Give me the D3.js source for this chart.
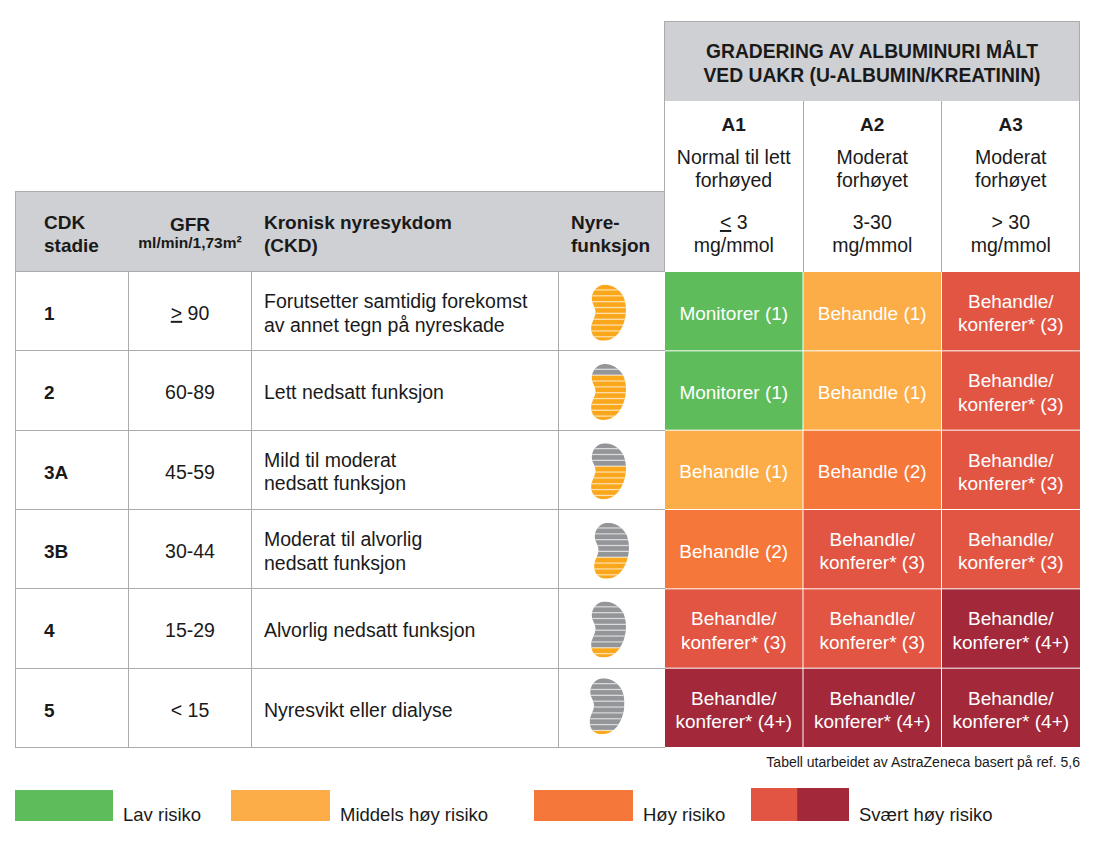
<!DOCTYPE html>
<html><head><meta charset="utf-8">
<script src="https://cdn.jsdelivr.net/npm/d3@7"></script>
<style>
html,body{margin:0;padding:0;background:#fff}
svg{display:block}
text{font-family:"Liberation Sans",Arial,sans-serif;fill:#1a1a1a}
</style></head><body>
<svg id="c" width="1093" height="844"></svg>
<script>
const stages = ["1","2","3A","3B","4","5"];
const gfr = [["≥","90"],["","60-89"],["","45-59"],["","30-44"],["","15-29"],["","< 15"]];
const descriptions = [
  ["Forutsetter samtidig forekomst","av annet tegn på nyreskade"],
  ["Lett nedsatt funksjon"],
  ["Mild til moderat","nedsatt funksjon"],
  ["Moderat til alvorlig","nedsatt funksjon"],
  ["Alvorlig nedsatt funksjon"],
  ["Nyresvikt eller dialyse"]
];
const grayBands = [0,2,4,6,8,9];
const bandTotal = 10;
const kidneyNudgeX = [0,0,0,3,0,-1.5];
const kidneyNudgeY = [0,0,0,0,-0.5,-3];
const albCols = ["A1","A2","A3"];
const albNames = [["Normal til lett","forhøyed"],["Moderat","forhøyet"],["Moderat","forhøyet"]];
const albRanges = [["≤","3"],["","3-30"],["","> 30"]];
const riskMatrix = [
  ["low","mid","vhigh"],
  ["low","mid","vhigh"],
  ["mid","high","vhigh"],
  ["high","vhigh","vhigh"],
  ["vhigh","vhigh","xhigh"],
  ["xhigh","xhigh","xhigh"]
];
const riskColor = {low:"#5EBC5B",mid:"#FCAD48",high:"#F5773A",vhigh:"#E15542",xhigh:"#A2283A"};
const riskText = {
  low:["Monitorer (1)"],
  mid:["Behandle (1)"],
  high:["Behandle (2)"],
  vhigh:["Behandle/","konferer* (3)"],
  xhigh:["Behandle/","konferer* (4+)"]
};
const legendLabels = ["Lav risiko","Middels høy risiko","Høy risiko","Svært høy risiko"];
const legendKeys = [["low"],["mid"],["high"],["vhigh","xhigh"]];
const legendShares = [[1],[1],[1],[0.47,0.53]];
const legendX = [15,231,534,751];
const legendW = [98,99,99,98];
const title = ["GRADERING AV ALBUMINURI MÅLT","VED UAKR (U-ALBUMIN/KREATININ)"];
const footnote = "Tabell utarbeidet av AstraZeneca basert på ref. 5,6";

const BORDER="#ababab", HEAD="#CFD0D3", ORANGE="#FBA71B", GRAY="#939598";
const FS=19.5, FC=19, FB=19, FL=18.5;
const svg=d3.select("#c");
const rowY=d3.scaleBand().domain(stages).range([271.5,747.5]);
const colX=d3.scaleBand().domain(albCols).range([664.5,1080]);
const leftEdges=[15,128,251,558,664];
const xColCenter=190;

function lines(g,arr,x,yc,opt={}){
  const lh=opt.lh||23.3;
  g.selectAll(null).data(arr).join("text")
    .attr("x",x).attr("y",(d,i)=>yc+6.5+(i-(arr.length-1)/2)*lh)
    .attr("text-anchor",opt.anchor||"start")
    .attr("font-size",opt.fs||FS)
    .attr("font-weight",opt.bold?700:400)
    .style("fill",opt.fill||null)
    .text(d=>d);
}
function underlined(g,pair,x,y,fs){
  const t=g.append("text").attr("x",x).attr("y",y).attr("text-anchor","middle").attr("font-size",fs||FS);
  if(pair[0]){
    t.append("tspan").text(pair[0]==="≥"?">":"<").style("text-decoration","underline");
    t.append("tspan").text(" "+pair[1]);
  } else t.text(pair[1]);
}

// header fills
svg.append("rect").attr("x",15).attr("y",191).attr("width",650).attr("height",81).attr("fill",HEAD);
svg.append("rect").attr("x",664).attr("y",21).attr("width",416).attr("height",80).attr("fill",HEAD);

// risk cells
const rows=svg.selectAll("g.row").data(stages).join("g").attr("class","row")
  .attr("transform",d=>`translate(0,${rowY(d)})`);
rows.each(function(s,ri){
  const g=d3.select(this), h=rowY.bandwidth();
  albCols.forEach((c,ci)=>{
    const k=riskMatrix[ri][ci];
    g.append("rect").attr("x",colX(c)+0.5).attr("y",0.5)
      .attr("width",colX.bandwidth()-0.5-(ci<2?0.5:0)).attr("height",h-1)
      .attr("fill",riskColor[k]);
    lines(g,riskText[k],colX(c)+colX.bandwidth()/2,h/2+2,{anchor:"middle",fill:"#fff",fs:FC});
  });
  lines(g,[s],44,h/2+2.2,{bold:true,fs:FB});
  underlined(g,gfr[ri],xColCenter,h/2+8.7);
  lines(g,descriptions[ri],264,h/2+2.2);
});

// grid lines
const gl=svg.append("g").attr("stroke",BORDER).attr("stroke-width",1).attr("shape-rendering","crispEdges");
const yLines=stages.map(s=>rowY(s)).concat([rowY.range()[1]]);
yLines.forEach(y=>gl.append("line").attr("x1",15).attr("x2",665).attr("y1",Math.floor(y)+.5).attr("y2",Math.floor(y)+.5));
leftEdges.forEach((x,i)=>gl.append("line").attr("x1",x+.5).attr("x2",x+.5).attr("y1",i===4?21:272).attr("y2",i===4?272:748));
gl.append("line").attr("x1",15.5).attr("x2",15.5).attr("y1",191).attr("y2",272);
gl.append("line").attr("x1",15).attr("x2",665).attr("y1",191.5).attr("y2",191.5);
gl.append("line").attr("x1",664).attr("x2",1080).attr("y1",21.5).attr("y2",21.5);
gl.append("line").attr("x1",1079.5).attr("x2",1079.5).attr("y1",21).attr("y2",272);
albCols.slice(1).forEach(c=>gl.append("line").attr("x1",Math.floor(colX(c))+.5).attr("x2",Math.floor(colX(c))+.5).attr("y1",101).attr("y2",272));

// header text
const hd=svg.append("g");
title.forEach((t,i)=>hd.append("text").attr("x",872).attr("y",58+i*24).attr("text-anchor","middle").attr("font-size",19.3).attr("font-weight",700).text(t));
albCols.forEach((c,i)=>{
  const cx=colX(c)+colX.bandwidth()/2;
  hd.append("text").attr("x",cx).attr("y",131).attr("text-anchor","middle").attr("font-size",FB).attr("font-weight",700).text(c);
  albNames[i].forEach((t,j)=>hd.append("text").attr("x",cx).attr("y",164+j*23).attr("text-anchor","middle").attr("font-size",FS).text(t));
  underlined(hd,albRanges[i],cx,229);
  hd.append("text").attr("x",cx).attr("y",252).attr("text-anchor","middle").attr("font-size",FS).text("mg/mmol");
});
[["CDK","stadie",44],["Kronisk nyresykdom","(CKD)",264],["Nyre-","funksjon",571]].forEach(([a,b,x])=>{
  hd.append("text").attr("x",x).attr("y",229).attr("font-size",FB).attr("font-weight",700).text(a);
  hd.append("text").attr("x",x).attr("y",252).attr("font-size",FB).attr("font-weight",700).text(b);
});
hd.append("text").attr("x",xColCenter).attr("y",231).attr("text-anchor","middle").attr("font-size",FB).attr("font-weight",700).text("GFR");
hd.append("text").attr("x",xColCenter).attr("y",248).attr("text-anchor","middle").attr("font-size",15.5).attr("font-weight",700).text("ml/min/1,73m²");

// kidneys
const kidneyPath="M14,0 C22,0 29,5 32.5,12 C35,18 35.5,25 34.5,31 C32.5,44 25,56 12.5,56 C4,56 0,50 0.2,43 C0.4,37 4.5,33 4.5,27 C4.5,22 0.8,19 0.8,14 C0.8,6 7,0 14,0 Z";
const defs=svg.append("defs");
defs.append("clipPath").attr("id","kid").append("path").attr("d",kidneyPath);
const bandY=d3.scaleLinear().domain([0,bandTotal]).range([-0.55,57.95]);
const kg=svg.selectAll("g.kid").data(stages).join("g").attr("class","kid")
  .attr("transform",(d,i)=>`translate(${591+kidneyNudgeX[i]},${rowY(d)+rowY.bandwidth()/2-26.5+kidneyNudgeY[i]})`)
  .attr("clip-path","url(#kid)");
kg.each(function(s,ri){
  const g=d3.select(this);
  g.selectAll("rect.b").data(d3.range(bandTotal)).join("rect")
    .attr("x",-1).attr("width",38)
    .attr("y",i=>bandY(i)).attr("height",i=>bandY(i+1)-bandY(i)+.2)
    .attr("fill",i=>i<grayBands[ri]?GRAY:ORANGE);
  g.selectAll("rect.s").data(d3.range(1,bandTotal)).join("rect")
    .attr("x",-1).attr("width",38)
    .attr("y",i=>bandY(i)-0.65).attr("height",1.3)
    .attr("fill","#fff").attr("fill-opacity",.6);
});

// footnote
svg.append("text").attr("x",1080).attr("y",767).attr("text-anchor","end").attr("font-size",14).text(footnote);

// legend
legendLabels.forEach((t,i)=>{
  const keys=legendKeys[i];
  let acc=0;
  keys.forEach((k,j)=>{
    const w=d3.scaleLinear().domain([0,1]).range([0,legendW[i]]);
    svg.append("rect").attr("x",legendX[i]+w(acc)).attr("y",keys.length>1?788:790)
      .attr("width",w(legendShares[i][j])).attr("height",keys.length>1?33:31).attr("fill",riskColor[k]);
    acc+=legendShares[i][j];
  });
  svg.append("text").attr("x",legendX[i]+legendW[i]+10).attr("y",821).attr("font-size",FL).text(t);
});
</script>
</body></html>
